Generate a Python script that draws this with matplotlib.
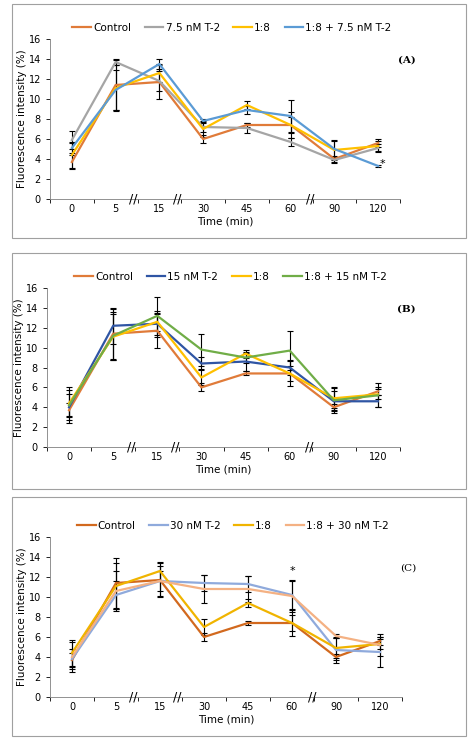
import numpy as np
import matplotlib.pyplot as plt

times = ['0', '5', '15', '30', '45', '60', '90', '120']

control = [3.7, 11.4, 11.7, 6.0, 7.4, 7.4, 4.0, 5.6]
control_err = [0.7, 2.5, 1.7, 0.4, 0.2, 0.8, 0.3, 0.4]
ratio18 = [4.4, 11.1, 12.6, 7.0, 9.4, 7.4, 4.9, 5.3]
ratio18_err = [1.3, 2.3, 0.9, 0.8, 0.4, 1.3, 1.0, 0.5]

t2_75 = [5.9, 13.7, 11.8, 7.2, 7.1, 5.7, 3.9, 5.1]
t2_75_err = [0.9, 0.3, 1.0, 0.5, 0.5, 0.4, 0.3, 0.4]
mix_75 = [5.1, 10.9, 13.5, 7.8, 8.9, 8.3, 5.0, 3.3]
mix_75_err = [0.5, 2.0, 0.5, 0.2, 0.4, 1.6, 0.8, 0.1]

t2_15 = [4.0, 12.2, 12.4, 8.4, 8.6, 8.0, 4.6, 4.6]
t2_15_err = [1.3, 1.8, 1.3, 0.7, 1.0, 0.8, 1.0, 0.6]
mix_15 = [4.2, 11.2, 13.2, 9.8, 9.0, 9.7, 4.7, 5.2]
mix_15_err = [1.8, 2.4, 1.9, 1.6, 0.5, 2.0, 1.3, 1.2]

t2_30 = [3.8, 10.2, 11.6, 11.4, 11.3, 10.2, 4.7, 4.5]
t2_30_err = [1.0, 1.4, 1.0, 0.8, 0.8, 1.4, 1.3, 1.5]
mix_30 = [4.0, 10.6, 11.6, 10.8, 10.8, 10.1, 6.1, 5.2]
mix_30_err = [1.5, 2.0, 1.5, 1.4, 1.3, 1.6, 0.2, 1.1]

panels = [
    ('(A)', [('Control', control, control_err, '#E07B39'),
             ('7.5 nM T-2', t2_75, t2_75_err, '#A5A5A5'),
             ('1:8', ratio18, ratio18_err, '#FFC000'),
             ('1:8 + 7.5 nM T-2', mix_75, mix_75_err, '#5B9BD5')], 'A'),
    ('(B)', [('Control', control, control_err, '#E07B39'),
             ('15 nM T-2', t2_15, t2_15_err, '#2F55A4'),
             ('1:8', ratio18, ratio18_err, '#FFC000'),
             ('1:8 + 15 nM T-2', mix_15, mix_15_err, '#70AD47')], 'B'),
    ('(C)', [('Control', control, control_err, '#D2691E'),
             ('30 nM T-2', t2_30, t2_30_err, '#8FAADC'),
             ('1:8', ratio18, ratio18_err, '#F0B400'),
             ('1:8 + 30 nM T-2', mix_30, mix_30_err, '#F4B183')], 'C'),
]

fig = plt.figure(figsize=(4.74, 7.41), dpi=100)
W, H = 474, 741
axes_px = [(50, 39, 400, 199), (47, 288, 400, 447), (50, 537, 402, 697)]
boxes_px = [(12, 4, 466, 238), (12, 253, 466, 489), (12, 497, 466, 736)]

x = np.arange(len(times))
for (tag, series, key), (l, t, r, b), (bl, bt, br, bb) in zip(panels, axes_px, boxes_px):
    fig.patches.append(plt.Rectangle((bl / W, 1 - bb / H), (br - bl) / W, (bb - bt) / H,
                                     transform=fig.transFigure, fill=False,
                                     edgecolor='#A0A0A0', lw=0.8))
    ax = fig.add_axes([l / W, 1 - b / H, (r - l) / W, (b - t) / H])
    for name, vals, err, col in series:
        ax.errorbar(x, vals, yerr=err, color=col, lw=1.6, label=name,
                    ecolor='black', elinewidth=0.8, capsize=2.5, capthick=0.8)
    ax.set_xlim(-0.5, 7.5)
    ax.set_ylim(0, 16)
    ax.set_yticks(range(0, 17, 2))
    ax.set_xticks(x)
    ax.set_xticklabels(times)
    ax.tick_params(labelsize=7, length=3, width=0.6)
    ax.set_xticks(np.arange(-0.5, 8, 1), minor=True)
    ax.tick_params(axis='x', which='major', length=0)
    ax.tick_params(axis='x', which='minor', length=3, width=0.6)
    for s in ('top', 'right'):
        ax.spines[s].set_visible(False)
    for s in ('left', 'bottom'):
        ax.spines[s].set_color('#808080')
        ax.spines[s].set_linewidth(0.6)
    ax.set_ylabel('Fluorescence intensity (%)', fontsize=7.5, labelpad=1)
    ax.set_xlabel('Time (min)', fontsize=7.5, labelpad=2)
    for bx in (1.4, 2.4, 5.45):
        ax.text(bx, 0, '//', fontsize=9, ha='center', va='center', clip_on=False)
    ax.text(7.65, 13.9 if key != 'C' else 12.9, tag, fontsize=7.5, family='serif',
            fontweight='bold' if key != 'C' else 'normal', ha='center', va='center', clip_on=False)
    if key == 'A':
        ax.text(7.1, 3.5, '*', fontsize=8, ha='center', va='center')
    if key == 'C':
        ax.text(5.0, 12.6, '*', fontsize=8, ha='center', va='center')
    h, lb = ax.get_legend_handles_labels()
    h = [hh[0] for hh in h]
    ax.legend(h, lb, loc='lower center', bbox_to_anchor=(0.52, 1.0), ncol=4, frameon=False,
              fontsize=7.5, handlelength=1.8, handletextpad=0.2, columnspacing=1.3,
              borderaxespad=0.2)

fig.savefig('out.png', dpi=100)
